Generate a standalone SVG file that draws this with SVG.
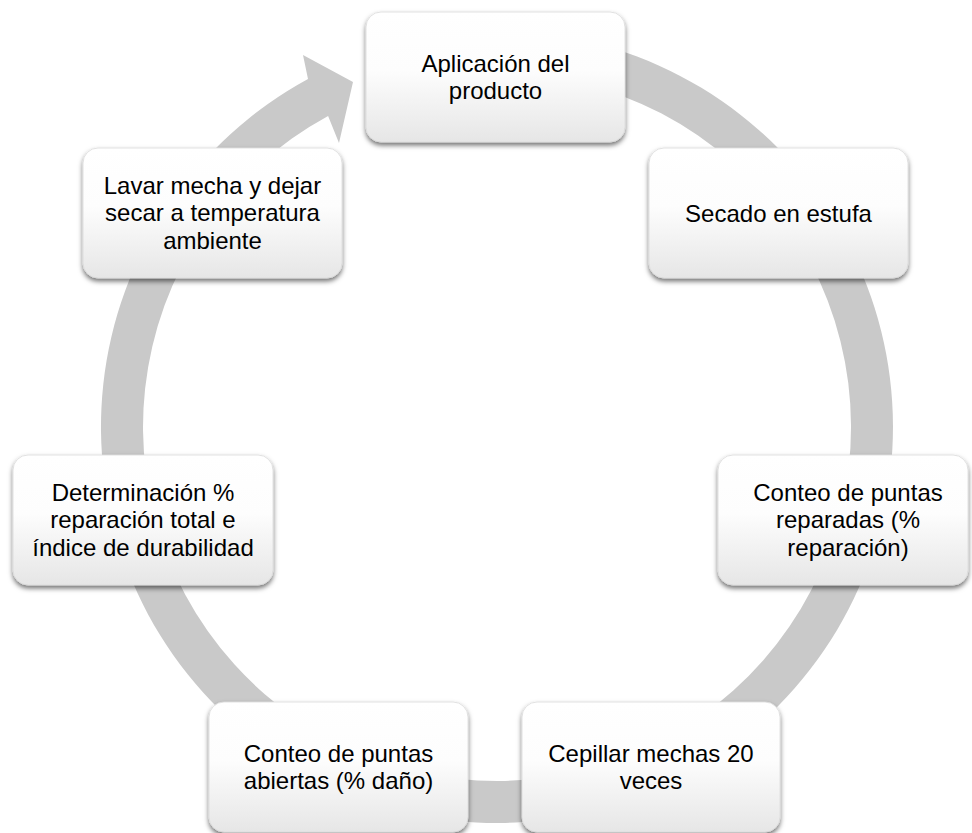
<svg xmlns="http://www.w3.org/2000/svg" width="972" height="833" viewBox="0 0 972 833">
  <defs>
    <linearGradient id="nodeFill" x1="0" y1="0" x2="0" y2="1">
      <stop offset="0" stop-color="#ffffff"/>
      <stop offset="0.45" stop-color="#fdfdfd"/>
      <stop offset="1" stop-color="#e6e6e6"/>
    </linearGradient>
    <filter id="shadow" x="-10%" y="-10%" width="120%" height="130%">
      <feDropShadow dx="0" dy="3" stdDeviation="2.6" flood-color="#000000" flood-opacity="0.55"/>
    </filter>
    <style>
      .node rect { fill: url(#nodeFill); stroke: #dadada; stroke-width: 0.8; filter: url(#shadow); }
      .node text { font-family: "Liberation Sans", Arial, sans-serif; font-size: 24px; fill: #000000; text-anchor: middle; }
      .ring { fill: #c9c9c9; stroke: none; }
    </style>
  </defs>
  <rect width="972" height="833" fill="#ffffff"/>

  <g id="connectors">
    <path class="ring" d="M 497 31 A 396 396 0 1 1 308 79 L 303 55 L 353 82 L 339 143 L 328.1 115.9 A 354 354 0 1 0 497 73 Z"/>
  </g>

  <g id="node1" class="node">
    <rect x="366" y="12" width="259" height="130" rx="15" ry="15"/>
    <text x="495.5" y="71.5">Aplicación del</text>
    <text x="495.5" y="99">producto</text>
  </g>

  <g id="node2" class="node">
    <rect x="649" y="148" width="259" height="130" rx="15" ry="15"/>
    <text x="778.5" y="221.5">Secado en estufa</text>
  </g>

  <g id="node3" class="node">
    <rect x="718" y="455" width="250" height="130" rx="15" ry="15"/>
    <text x="848" y="500.7">Conteo de puntas</text>
    <text x="848" y="528.3">reparadas (%</text>
    <text x="848" y="555.9">reparación)</text>
  </g>

  <g id="node4" class="node">
    <rect x="522" y="702" width="258" height="130" rx="15" ry="15"/>
    <text x="651" y="761.5">Cepillar mechas 20</text>
    <text x="651" y="789">veces</text>
  </g>

  <g id="node5" class="node">
    <rect x="209" y="702" width="259" height="130" rx="15" ry="15"/>
    <text x="338.5" y="761.5">Conteo de puntas</text>
    <text x="338.5" y="789">abiertas (% daño)</text>
  </g>

  <g id="node6" class="node">
    <rect x="13" y="455" width="260" height="130" rx="15" ry="15"/>
    <text x="143" y="500.7">Determinación %</text>
    <text x="143" y="528.3">reparación total e</text>
    <text x="143" y="555.9">índice de durabilidad</text>
  </g>

  <g id="node7" class="node">
    <rect x="83" y="148" width="259" height="130" rx="15" ry="15"/>
    <text x="212.5" y="193.7">Lavar mecha y dejar</text>
    <text x="212.5" y="221.3">secar a temperatura</text>
    <text x="212.5" y="248.9">ambiente</text>
  </g>
</svg>
